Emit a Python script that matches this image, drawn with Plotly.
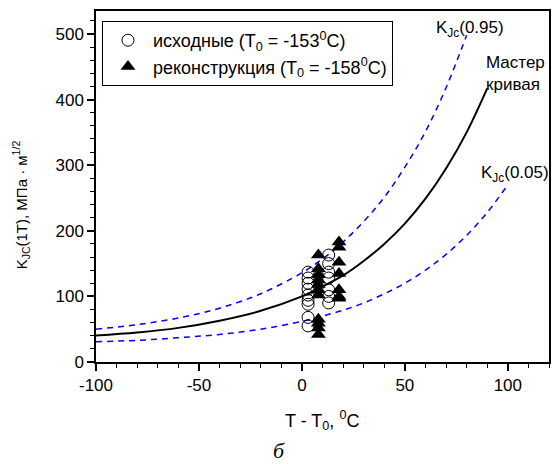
import plotly.graph_objects as go

# Curves (T - T0, K_JC)
curve_x = [-100, -80, -60, -40, -20, 0, 10, 20, 30, 40, 50, 60, 70, 80, 90, 100]
master_y = [40.5, 45, 52, 63, 78, 100, 115, 132, 154, 180, 211, 249, 295, 350, 417]
k95_y = [50, 57, 67, 82, 104, 136, 157, 183, 214, 251, 297, 351, 418, 498]
k05_y = [31, 33, 37, 42, 50, 62, 70, 79, 90, 104, 120, 140, 164, 193, 228, 270]

# Data points
circ_x = [3] * 9 + [13] * 7
circ_y = [137, 128, 120, 111, 102, 94, 88, 68, 55,
          163, 150, 137, 128, 110, 100, 90]
tri_x = [8] * 11 + [18] * 7
tri_y = [163, 142, 133, 125, 118, 110, 102, 65, 59, 52, 42,
         183, 175, 152, 135, 110, 100, 97]

# Tick labels
x_tickvals = [-100, -50, 0, 50, 100]
x_ticktext = ["-100", "-50", "0", "50", "100"]
y_tickvals = [0, 100, 200, 300, 400, 500]
y_ticktext = ["0", "100", "200", "300", "400", "500"]

FONT = "Liberation Sans, Arial, sans-serif"
L, T, W, H = 96, 11, 455, 351  # plot area in pixels


def px(xp):
    return (xp - L) / W


def py(yp):
    return (T + H - yp) / H


fig = go.Figure()
fig.add_trace(go.Scatter(x=curve_x[:len(k95_y)], y=k95_y, mode="lines",
                         line=dict(color="#0000ff", width=1.5, dash="6px,5px", shape="spline"),
                         showlegend=False, hoverinfo="skip"))
fig.add_trace(go.Scatter(x=curve_x[:len(k05_y)], y=k05_y, mode="lines",
                         line=dict(color="#0000ff", width=1.5, dash="6px,5px", shape="spline"),
                         showlegend=False, hoverinfo="skip"))
fig.add_trace(go.Scatter(x=curve_x[:len(master_y)], y=master_y, mode="lines",
                         line=dict(color="black", width=2, shape="spline"),
                         showlegend=False, hoverinfo="skip"))
fig.add_trace(go.Scatter(x=circ_x, y=circ_y, mode="markers",
                         marker=dict(symbol="circle-open", size=12, color="black",
                                     line=dict(width=1, color="black")),
                         name="исходные (T<sub>0</sub> = -153<sup>0</sup>C)"))
fig.add_trace(go.Scatter(x=tri_x, y=tri_y, mode="markers",
                         marker=dict(symbol="triangle-up", size=13, color="black"),
                         name="реконструкция (T<sub>0</sub> = -158<sup>0</sup>C)"))

annots = [
    dict(x=64.2, y=508, text="K<sub>Jc</sub>(0.95)"),
    dict(x=88.4, y=440, text="Мастер<br>кривая"),
    dict(x=86, y=287, text="K<sub>Jc</sub>(0.05)"),
]
for a in annots:
    fig.add_annotation(x=a["x"], y=a["y"], text=a["text"], showarrow=False,
                       xanchor="left", yanchor="middle", align="left",
                       font=dict(family=FONT, size=17, color="black"))

# y-axis title
fig.add_annotation(x=px(20), y=py(205), xref="paper", yref="paper",
                   text="K<sub>JC</sub>(1T), МПа · м<sup>1/2</sup>", textangle=-90,
                   showarrow=False, xanchor="center", yanchor="middle",
                   font=dict(family=FONT, size=15, color="black"))
# x-axis title
fig.add_annotation(x=px(323), y=py(420), xref="paper", yref="paper",
                   text="T - T<sub>0</sub>, <sup>0</sup>C",
                   showarrow=False, xanchor="center", yanchor="middle",
                   font=dict(family=FONT, size=18, color="black"))
# panel letter
fig.add_annotation(x=px(280), y=py(450), xref="paper", yref="paper",
                   text="<i>б</i>", showarrow=False, xanchor="center", yanchor="middle",
                   font=dict(family="Liberation Serif, Times New Roman, serif",
                             size=22, color="black"))

axis_common = dict(showgrid=False, zeroline=False, showline=True, linecolor="black",
                   linewidth=1.5, mirror=True, ticks="outside", tickcolor="black",
                   ticklen=7, tickwidth=1.5,
                   tickfont=dict(family=FONT, size=17, color="black"))

fig.update_xaxes(range=[-100, 120], tickmode="array", tickvals=x_tickvals, ticktext=x_ticktext,
                 minor=dict(ticks="outside", tick0=-100, dtick=10, ticklen=4,
                            tickcolor="black", tickwidth=1.2),
                 **axis_common)
fig.update_yaxes(range=[0, 535], tickmode="array", tickvals=y_tickvals, ticktext=y_ticktext,
                 minor=dict(ticks="outside", tick0=0, dtick=20, ticklen=4,
                            tickcolor="black", tickwidth=1.2),
                 **axis_common)

fig.update_layout(
    width=552, height=464,
    margin=dict(l=L, r=552 - L - W, t=T, b=464 - T - H),
    plot_bgcolor="white", paper_bgcolor="white",
    showlegend=True,
    legend=dict(x=px(102), y=py(21), xanchor="left", yanchor="top",
                bordercolor="black", borderwidth=1, bgcolor="white",
                font=dict(family=FONT, size=18, color="black"),
                itemwidth=40, tracegroupgap=0),
)

fig.write_html("out.html")
